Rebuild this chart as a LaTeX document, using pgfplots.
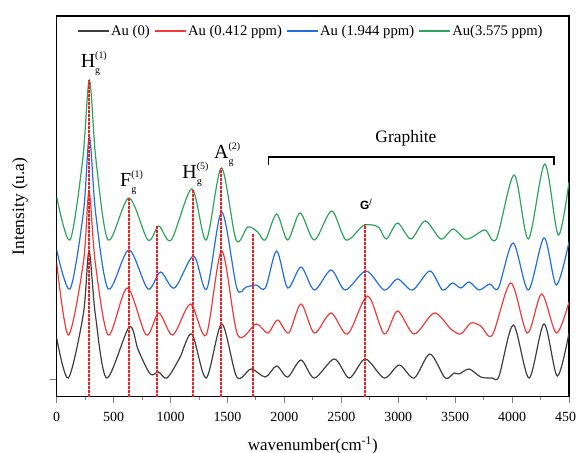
\documentclass[border=0pt]{standalone}
\usepackage{fontspec}
\setmainfont{Liberation Serif}
\newfontfamily\arialfont{Liberation Sans}
\usepackage{pgfplots}
\pgfplotsset{compat=1.18}

\definecolor{auBlack}{HTML}{3F3F3F}
\definecolor{auRed}{HTML}{EE3B3B}
\definecolor{auBlue}{HTML}{1F6FE3}
\definecolor{auGreen}{HTML}{2EA35E}
\definecolor{pkRed}{HTML}{FF1A1A}
\newcommand{\fs}[1]{\fontsize{#1}{#1}\selectfont}
% peak label: letter, subscript below, superscript above
\newcommand{\mode}[3]{#1\rlap{\raisebox{9bp}{\fs{10}(#3)}}\raisebox{-5.5bp}{\fs{10}#2}}

\begin{document}
\begin{tikzpicture}
\useasboundingbox (0,0) rectangle (576bp,453bp);
\begin{axis}[
  at={(56.7bp,56.3bp)}, anchor=south west,
  width=512.3bp, height=380.7bp, scale only axis,
  xmin=0, xmax=4500, ymin=3.3, ymax=384,
  xtick={0,500,...,4500}, minor x tick num=1,
  ytick={21}, yticklabels={},
  xtick pos=bottom, ytick pos=left,
  tick align=outside,
  major tick length=6.5bp, minor tick length=3.3bp,
  tick style={line width=0.9bp},
  axis line style={line width=1.1bp},
  /pgf/number format/assume math mode=true,
  /pgf/number format/1000 sep={},
  x tick label style={font=\fs{14}, yshift=-6bp},
  xlabel={wavenumber(cm\textsuperscript{-1})},
  ylabel={Intensity (u.a)},
  xlabel style={font=\fs{17}, at={(axis description cs:0.5,-0.141)}, anchor=base},
  ylabel style={font=\fs{17.5}, at={(axis description cs:-0.0716,0.5)}, anchor=center},
  legend columns=-1,
  legend style={draw=none, fill=none, at={(0.496,0.9606)}, anchor=center,
    font=\fs{14.7}, nodes={inner xsep=1.5bp},
    /tikz/every even column/.append style={column sep=3bp}},
  legend image code/.code={\draw[#1] (0bp,0bp) -- (31bp,0bp);},
  curve/.style={smooth, tension=0.5, line width=1.2bp},
]

\addplot[curve, draw=auBlack] coordinates {
  (0,62) (102,22) (234,86) (284,149) (339,86) (439,22) (637,73) (716,50)
  (822,26) (895,28) (969,22) (1080,42) (1187,66) (1313,22) (1450,76)
  (1582,23) (1708,31) (1833,23) (1932,34) (2029,23) (2146,40) (2263,22)
  (2439,41) (2570,22) (2711,41) (2877,22) (3009,35) (3140,22) (3278,46)
  (3412,22) (3491,27) (3535,26) (3623,31) (3725,23) (3827,22) (3886,24)
  (4011,75) (4149,22) (4281,76) (4397,24) (4500,67)
};
\addlegendentry{Au (0)}

\addplot[curve, draw=auRed] coordinates {
  (0,137) (102,65) (234,137) (284,208) (339,137) (453,65) (620,112)
  (786,65) (897,87) (1020,65) (1175,96) (1313,65) (1450,149) (1590,65)
  (1752,76) (1854,67) (1941,80) (2038,67) (2146,96) (2263,67) (2410,87)
  (2555,66) (2731,104) (2877,66) (2994,89) (3140,66) (3316,87) (3462,71)
  (3550,66) (3638,77) (3725,74) (3827,65) (3989,117) (4134,67) (4260,106)
  (4389,67) (4500,98)
};
\addlegendentry{Au (0.412 ppm)}

\addplot[curve, draw=auBlue] coordinates {
  (0,150) (117,111) (234,187) (287,263) (342,187) (453,111) (634,150)
  (801,111) (912,128) (1035,112) (1202,144) (1318,111) (1450,188)
  (1582,112) (1664,113) (1752,115) (1833,112) (1932,149) (2029,112)
  (2146,133) (2263,110) (2410,130) (2535,110) (2717,129) (2877,110)
  (2994,121) (3126,110) (3278,129) (3389,110) (3476,117) (3550,112)
  (3623,118) (3711,110) (3804,116) (3880,112) (4009,157) (4143,110)
  (4281,162) (4389,115) (4500,158)
};
\addlegendentry{Au (1.944 ppm)}

\addplot[curve, draw=auGreen] coordinates {
  (0,203) (117,160) (228,240) (287,320) (345,240) (452,160) (634,202)
  (801,160) (897,174) (1006,160) (1187,211) (1313,160) (1447,232)
  (1576,160) (1678,173) (1766,168) (1833,160) (1932,186) (2029,160)
  (2138,187) (2263,160) (2415,189) (2541,160) (2687,174) (2775,175)
  (2833,172) (2897,161) (2994,177) (3111,161) (3237,179) (3375,161)
  (3482,171) (3585,161) (3652,163) (3763,170) (3862,161) (4018,225)
  (4143,161) (4287,236) (4406,165) (4500,218)
};
\addlegendentry{Au(3.575 ppm)}

% dashed peak markers
\addplot[ycomb, draw=pkRed, line width=1.15bp, dash pattern=on 2.5bp off 1.5bp, mark=none, forget plot]
  coordinates {(283.7,320) (635,202) (881,175) (1197.2,211) (1443.1,232) (1724.2,166) (2708,176)};

% graphite bracket
\addplot[draw=black, line width=1.2bp, forget plot] coordinates {(1862,235) (1862,243) (4368,243) (4368,235)};

\node[anchor=base west, inner sep=0, font=\fs{20}] at (axis cs:210,332) {\mode{H}{g}{1}};
\node[anchor=base west, inner sep=0, font=\fs{20}] at (axis cs:556,213) {\mode{F}{g}{1}};
\node[anchor=base west, inner sep=0, font=\fs{20}] at (axis cs:1103,221) {\mode{H}{g}{5}};
\node[anchor=base west, inner sep=0, font=\fs{20}] at (axis cs:1382,241) {\mode{A}{g}{2}};
\node[anchor=base west, inner sep=0, font=\arialfont\bfseries\fs{12}] at (axis cs:2664,190) {G\raisebox{4bp}{\mdseries\fs{9}/}};
\node[anchor=base, inner sep=0, font=\fs{17.5}] at (axis cs:3068,257) {Graphite};
\end{axis}
\end{tikzpicture}
\end{document}
